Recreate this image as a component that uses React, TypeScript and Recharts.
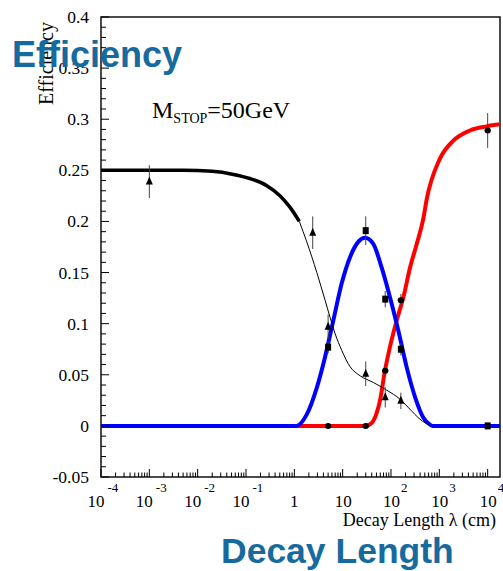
import React from 'react';
import { ComposedChart, Line, Scatter, ErrorBar, XAxis, YAxis, ReferenceArea } from 'recharts';

// axis ranges (decay length in cm, efficiency)
const X_MIN = 1e-4;
const X_MAX = 1.8e4;
const Y_MIN = -0.05;
const Y_MAX = 0.4;

const xMajorTicks = [1e-4, 1e-3, 1e-2, 1e-1, 1, 10, 1e2, 1e3, 1e4];
const xMajorLabels: [string, string][] = [
  ['10', '-4'], ['10', '-3'], ['10', '-2'], ['10', '-1'], ['1', ''], ['10', ''], ['10', '2'], ['10', '3'], ['10', '4'],
];
const xMinorMultipliers = [2, 3, 4, 5, 6, 7, 8, 9];

const yMajorTicks = [-0.05, 0, 0.05, 0.1, 0.15, 0.2, 0.25, 0.3, 0.35, 0.4];
const yMajorLabels = ['-0.05', '0', '0.05', '0.1', '0.15', '0.2', '0.25', '0.3', '0.35', '0.4'];
const yMinorStep = 0.01;

// fitted curves
const blackThick = [
  { x: 1e-4, y: 0.25 }, { x: 0.005, y: 0.25 }, { x: 0.02, y: 0.249 }, { x: 0.055, y: 0.246 },
  { x: 0.12, y: 0.242 }, { x: 0.27, y: 0.235 }, { x: 0.51, y: 0.225 }, { x: 0.81, y: 0.214 }, { x: 1.27, y: 0.2 },
];
const blackThin = [
  { x: 1.27, y: 0.2 }, { x: 1.81, y: 0.18 }, { x: 2.92, y: 0.15 }, { x: 4.32, y: 0.123 }, { x: 5.5, y: 0.106 },
  { x: 7, y: 0.09 }, { x: 9.55, y: 0.074 }, { x: 14.2, y: 0.058 }, { x: 23, y: 0.049 }, { x: 43, y: 0.0425 },
  { x: 81, y: 0.035 }, { x: 155, y: 0.026 }, { x: 245, y: 0.0164 }, { x: 397, y: 0.0066 }, { x: 650, y: 0 },
];
const blueFit = [
  { x: 1e-4, y: 0 }, { x: 1.1, y: 0 }, { x: 1.8, y: 0.011 }, { x: 2.9, y: 0.037 }, { x: 4.3, y: 0.067 },
  { x: 6.4, y: 0.103 }, { x: 9.5, y: 0.139 }, { x: 14.2, y: 0.165 }, { x: 21, y: 0.18 }, { x: 29, y: 0.184 },
  { x: 43, y: 0.178 }, { x: 64, y: 0.155 }, { x: 95, y: 0.126 }, { x: 142, y: 0.093 }, { x: 212, y: 0.057 },
  { x: 316, y: 0.028 }, { x: 468, y: 0.008 }, { x: 650, y: 0.001 }, { x: 720, y: 0 }, { x: 1.8e4, y: 0 },
];
const redFit = [
  { x: 1e-4, y: 0 }, { x: 30, y: 0 }, { x: 40, y: 0.003 }, { x: 50, y: 0.012 }, { x: 59, y: 0.0245 },
  { x: 75, y: 0.054 }, { x: 95, y: 0.077 }, { x: 131, y: 0.103 }, { x: 181, y: 0.126 }, { x: 248, y: 0.155 },
  { x: 341, y: 0.178 }, { x: 468, y: 0.203 }, { x: 550, y: 0.222 }, { x: 1020, y: 0.261 }, { x: 1950, y: 0.279 },
  { x: 4300, y: 0.289 }, { x: 9550, y: 0.293 }, { x: 1.8e4, y: 0.295 },
];

// measured points with errors
const triangles = [
  { x: 0.001, y: 0.239, e: 0.016 }, { x: 2.4, y: 0.189, e: 0.016 }, { x: 5, y: 0.097, e: 0.012 },
  { x: 30, y: 0.051, e: 0.012 }, { x: 76, y: 0.028, e: 0.01 }, { x: 160, y: 0.0245, e: 0.008 },
];
const squares = [
  { x: 5, y: 0.077, e: 0.006 }, { x: 30, y: 0.191, e: 0.014 }, { x: 76, y: 0.124, e: 0.008 },
  { x: 160, y: 0.075, e: 0.006 }, { x: 1e4, y: 0, e: 0.001 },
];
const circles = [
  { x: 5, y: 0, e: 0 }, { x: 30, y: 0, e: 0 }, { x: 76, y: 0.054, e: 0.006 },
  { x: 160, y: 0.123, e: 0.006 }, { x: 1e4, y: 0.289, e: 0.017 },
];

const xTicks = [
  ...xMajorTicks,
  ...xMajorTicks.slice(0, -1).flatMap((d) => xMinorMultipliers.map((m) => d * m)),
].sort((a, b) => a - b);

const yTicks: number[] = [];
for (let v = Y_MIN; v <= Y_MAX + 1e-9; v += yMinorStep) yTicks.push(Math.round(v * 100) / 100);

const SERIF = '"Liberation Serif", "DejaVu Serif", serif';
const SANS = '"Liberation Sans", Arial, sans-serif';
const TITLE_BLUE = '#176a9e';

function XTick(props: any) {
  const { x, y, payload } = props;
  const lv = Math.log10(payload.value);
  const i = xMajorTicks.findIndex((t) => Math.abs(Math.log10(t) - lv) < 1e-6);
  const major = i >= 0;
  let label = null;
  if (major) {
    const [base, exp] = xMajorLabels[i];
    if (!exp) {
      label = (
        <text x={base === '1' ? x : x + 9} y={y + 30} textAnchor={base === '1' ? 'middle' : 'end'} fontSize={17} fontFamily={SERIF} fill="#000">
          {base}
        </text>
      );
    } else {
      const neg = exp.startsWith('-');
      label = (
        <g>
          <text x={x + (neg ? 3.5 : 9)} y={y + 30} textAnchor="end" fontSize={17} fontFamily={SERIF} fill="#000">{base}</text>
          <text x={x + (neg ? 6.5 : 10)} y={y + 15} fontSize={13} fontFamily={SERIF} fill="#000">{exp}</text>
        </g>
      );
    }
  }
  return (
    <g>
      <line x1={x} x2={x} y1={y} y2={y - (major ? 8 : 4.5)} stroke="#000" strokeWidth={1} />
      {label}
    </g>
  );
}

function YTick(props: any) {
  const { x, y, payload } = props;
  const i = yMajorTicks.findIndex((t) => Math.abs(t - payload.value) < 1e-6);
  const major = i >= 0;
  return (
    <g>
      <line x1={x} x2={x + (major ? 8 : 5)} y1={y} y2={y} stroke="#000" strokeWidth={1} />
      {major && (
        <text x={x - 12} y={y} dy={6} textAnchor="end" fontSize={17.5} fontFamily={SERIF} fill="#000">
          {yMajorLabels[i]}
        </text>
      )}
    </g>
  );
}

const Tri = ({ cx, cy }: any) => (
  <polygon points={`${cx},${cy - 5} ${cx - 3.5},${cy + 3} ${cx + 3.5},${cy + 3}`} fill="#000" />
);
const Sq = ({ cx, cy }: any) => <rect x={cx - 3} y={cy - 3.5} width={6} height={7} fill="#000" />;
const Circ = ({ cx, cy }: any) => <ellipse cx={cx} cy={cy} rx={3.2} ry={3} fill="#000" />;

export default function App() {
  return (
    <div style={{ position: 'absolute', left: 0, top: 0, width: 503, height: 571, background: '#fff' }}>
      <ComposedChart width={503} height={571} margin={{ top: 17, right: 3, left: 0, bottom: 0 }}>
        <XAxis
          dataKey="x"
          type="number"
          scale="log"
          domain={[X_MIN, X_MAX]}
          allowDataOverflow
          ticks={xTicks}
          interval={0}
          tickSize={0}
          tickMargin={0}
          axisLine={false}
          tickLine={false}
          height={94}
          tick={<XTick />}
        />
        <YAxis
          dataKey="y"
          type="number"
          domain={[Y_MIN, Y_MAX]}
          allowDataOverflow
          ticks={yTicks}
          interval={0}
          tickSize={0}
          tickMargin={0}
          axisLine={false}
          tickLine={false}
          width={101}
          tick={<YTick />}
        />
        <ReferenceArea x1={X_MIN} x2={X_MAX} y1={Y_MIN} y2={Y_MAX} fill="none" stroke="#111" strokeWidth={1.5} />
        <Line data={redFit} dataKey="y" type="monotone" stroke="#ff0000" strokeWidth={4} dot={false} activeDot={false} isAnimationActive={false} />
        <Line data={blueFit} dataKey="y" type="monotone" stroke="#0000ff" strokeWidth={4} dot={false} activeDot={false} isAnimationActive={false} />
        <Line data={blackThick} dataKey="y" type="monotone" stroke="#000" strokeWidth={3.5} dot={false} activeDot={false} isAnimationActive={false} />
        <Line data={blackThin} dataKey="y" type="monotone" stroke="#000" strokeWidth={1} dot={false} activeDot={false} isAnimationActive={false} />
        <Scatter data={triangles} shape={<Tri />} isAnimationActive={false}>
          <ErrorBar dataKey="e" direction="y" width={0} stroke="#444" strokeWidth={1} />
        </Scatter>
        <Scatter data={squares} shape={<Sq />} isAnimationActive={false}>
          <ErrorBar dataKey="e" direction="y" width={0} stroke="#444" strokeWidth={1} />
        </Scatter>
        <Scatter data={circles} shape={<Circ />} isAnimationActive={false}>
          <ErrorBar dataKey="e" direction="y" width={0} stroke="#444" strokeWidth={1} />
        </Scatter>
      </ComposedChart>
      <svg width={503} height={571} style={{ position: 'absolute', left: 0, top: 0, pointerEvents: 'none' }}>
        <text x={53} y={63.5} transform="rotate(-90 53 63.5)" textAnchor="middle" fontSize={20} fontFamily={SERIF} fill="#000">
          Efficiency
        </text>
        <text x={152} y={118} fontSize={24} fontFamily={SERIF} fill="#000">
          M<tspan fontSize={14} dy={5}>STOP</tspan><tspan dy={-5}>=50GeV</tspan>
        </text>
        <text x={496} y={526} textAnchor="end" fontSize={18} fontFamily={SERIF} fill="#000">
          Decay Length λ (cm)
        </text>
        <text x={12} y={67} fontSize={36} fontWeight="bold" fontFamily={SANS} fill={TITLE_BLUE}>
          Efficiency
        </text>
        <text x={221} y={563} fontSize={35.5} fontWeight="bold" fontFamily={SANS} fill={TITLE_BLUE}>
          Decay Length
        </text>
      </svg>
    </div>
  );
}
